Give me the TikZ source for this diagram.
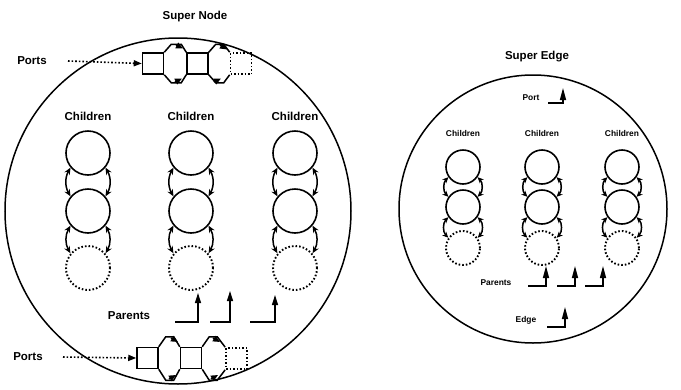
\documentclass[tikz,border=0pt]{standalone}
\usepackage{fontspec}
\setmainfont{Liberation Sans}
\usetikzlibrary{arrows.meta}
\begin{document}
\begin{tikzpicture}[x=1pt,y=-1pt,
  big/.style={font=\bfseries\fontsize{11.5}{13}\selectfont,inner sep=0},
  small/.style={font=\bfseries\fontsize{8.4}{10}\selectfont,inner sep=0},
  outer/.style={draw,line width=1.5pt},
  kid/.style={circle,draw,line width=1.6pt,minimum size=44pt,inner sep=0},
  ghost/.style={kid,dotted,line width=1.9pt},
  skid/.style={kid,minimum size=34pt},
  sghost/.style={skid,dotted,line width=1.9pt},
  link/.style={line width=1.5pt,{Stealth[length=7pt,width=6pt]}-{Stealth[length=7pt,width=6pt]}},
  slink/.style={line width=1.5pt,{Stealth[length=6pt,width=5.5pt]}-{Stealth[length=6pt,width=5.5pt]}},
  pbox/.style={draw,line width=1.5pt,minimum width=21pt,minimum height=21pt,inner sep=0},
  gbox/.style={pbox,dotted,line width=1.7pt},
  hexline/.style={line width=1.5pt,line join=miter},
  tip/.style={line width=1.5pt,-{Triangle[length=7pt,width=6pt]}},
  parent/.style={line width=1.4pt,-{Triangle[length=10pt,width=6pt]}},
  sparent/.style={line width=1.4pt,-{Triangle[length=12pt,width=6pt]}},
  portarrow/.style={dotted,line width=1.6pt,-{Triangle[length=8pt,width=6pt]}}
]
\useasboundingbox (0,0) rectangle (681,389);

% ---------- Super Node ----------
\node[big] (snt) at (195,17) {Super Node};
\draw[outer] (178,211) circle[radius=173];

% port chain, top
\node[big] (ptop) at (32,61) {Ports};
\node[pbox] (ta) at (153,63.5) {};
\node[pbox] (tb) at (197.5,63.5) {};
\node[gbox] (tc) at (241,63.5) {};
\coordinate (tsrc) at (68,61);
\draw[portarrow] (tsrc) -- (ta.west);
\draw[hexline] (ta.north east) -- ++(7,-8) -- ++(10,0) -- (tb.north west);
\draw[hexline] (ta.south east) -- ++(7,8) -- ++(10,0) -- (tb.south west);
\draw[hexline] (tb.north east) -- ++(7,-8) -- ++(8,0) -- (tc.north west);
\draw[hexline] (tb.south east) -- ++(7,8) -- ++(8,0) -- (tc.south west);
\draw[tip] (176,45) -- (183,48.5);
\draw[tip] (175,82) -- (182,78.5);
\draw[tip] (220,45) -- (227,49.5);
\draw[tip] (214,82) -- (221,78.5);

% port chain, bottom
\node[big] (pbot) at (28,357) {Ports};
\node[pbox] (ba) at (147.5,358) {};
\node[pbox] (bb) at (191,358) {};
\node[gbox] (bc) at (236.5,358.5) {};
\coordinate (bsrc) at (63,357);
\draw[portarrow] (bsrc) -- (ba.west);
\draw[hexline] (ba.north east) -- ++(7,-10) -- ++(8,0) -- (bb.north west);
\draw[hexline] (ba.south east) -- ++(7,11) -- ++(8,0) -- (bb.south west);
\draw[hexline] (bb.north east) -- ++(7,-10) -- ++(8,0) -- (bc.north west);
\draw[hexline] (bb.south east) -- ++(7,11) -- ++(8,0) -- (bc.south west);
\draw[tip] (171,338) -- (178,342);
\draw[tip] (169,379) -- (176,375);
\draw[tip] (213,338) -- (220,342);
\draw[tip] (211,379) -- (218,375);

% children columns
\foreach \c/\x in {1/88,2/191,3/295}{
  \node[big] (cl\c) at (\x,116) {Children};
  \node[kid] (k\c a) at (\x,153) {};
  \node[kid] (k\c b) at (\x,211) {};
  \node[ghost] (k\c c) at (\x,268) {};
  \draw[link] (k\c a.-140) to[bend right=30] (k\c b.140);
  \draw[link] (k\c a.-40) to[bend left=30] (k\c b.40);
  \draw[link] (k\c b.-140) to[bend right=30] (k\c c.140);
  \draw[link] (k\c b.-40) to[bend left=30] (k\c c.40);
}

% parents
\node[big] (par) at (129,316) {Parents};
\coordinate (p1) at (175,322); \coordinate (p1c) at (198,322); \coordinate (p1t) at (198,293);
\coordinate (p2) at (210,322); \coordinate (p2c) at (230,322); \coordinate (p2t) at (230,291);
\coordinate (p3) at (250,322); \coordinate (p3c) at (275,322); \coordinate (p3t) at (275,295);
\draw[parent] (p1) -- (p1c) -- (p1t);
\draw[parent] (p2) -- (p2c) -- (p2t);
\draw[parent] (p3) -- (p3c) -- (p3t);

% ---------- Super Edge ----------
\node[big] (set) at (537,57) {Super Edge};
\draw[outer] (533,209) circle[radius=134];

\node[small] (port) at (531,98) {Port};
\coordinate (q0) at (548,103); \coordinate (q0c) at (563,103); \coordinate (q0t) at (563,88);
\draw[sparent] (q0) -- (q0c) -- (q0t);

\foreach \c/\x in {1/463,2/542,3/622}{
  \node[small] (sl\c) at (\x,133) {Children};
  \node[skid] (s\c a) at (\x,167) {};
  \node[skid] (s\c b) at (\x,207) {};
  \node[sghost] (s\c c) at (\x,248) {};
  \draw[slink] (s\c a.-145) to[bend right=45] (s\c b.145);
  \draw[slink] (s\c a.-35) to[bend left=45] (s\c b.35);
  \draw[slink] (s\c b.-145) to[bend right=45] (s\c c.145);
  \draw[slink] (s\c b.-35) to[bend left=45] (s\c c.35);
}

\node[small] (spar) at (496,283) {Parents};
\coordinate (r1) at (528,286); \coordinate (r1c) at (546,286); \coordinate (r1t) at (546,266);
\coordinate (r2) at (557,286); \coordinate (r2c) at (575,286); \coordinate (r2t) at (575,266);
\coordinate (r3) at (585,286); \coordinate (r3c) at (603,286); \coordinate (r3t) at (603,266);
\draw[sparent] (r1) -- (r1c) -- (r1t);
\draw[sparent] (r2) -- (r2c) -- (r2t);
\draw[sparent] (r3) -- (r3c) -- (r3t);

\node[small] (edge) at (526,320) {Edge};
\coordinate (e0) at (547,327); \coordinate (e0c) at (565,327); \coordinate (e0t) at (565,307);
\draw[sparent] (e0) -- (e0c) -- (e0t);
\end{tikzpicture}
\end{document}
